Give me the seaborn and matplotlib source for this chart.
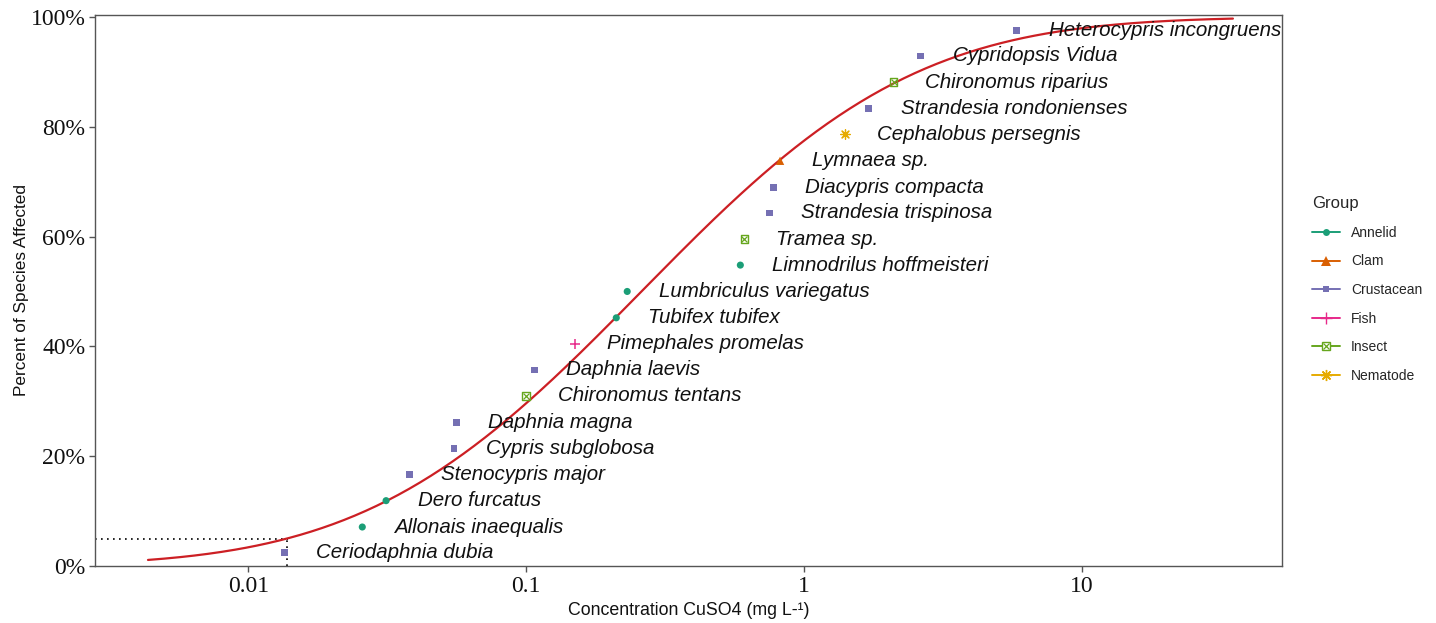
import math
import numpy as np
import pandas as pd
import matplotlib
matplotlib.use("Agg")
import matplotlib.pyplot as plt
from matplotlib.lines import Line2D
from matplotlib.legend_handler import HandlerTuple
from matplotlib.ticker import FuncFormatter, FixedLocator, NullLocator
import seaborn as sns

# Species sensitivity data (CuSO4 toxicity)
species = [
    "Ceriodaphnia dubia", "Allonais inaequalis", "Dero furcatus", "Stenocypris major",
    "Cypris subglobosa", "Daphnia magna", "Chironomus tentans", "Daphnia laevis",
    "Pimephales promelas", "Tubifex tubifex", "Lumbriculus variegatus",
    "Limnodrilus hoffmeisteri", "Tramea sp.", "Strandesia trispinosa",
    "Diacypris compacta", "Lymnaea sp.", "Cephalobus persegnis",
    "Strandesia rondonienses", "Chironomus riparius", "Cypridopsis Vidua",
    "Heterocypris incongruens",
]
groups = [
    "Crustacean", "Annelid", "Annelid", "Crustacean", "Crustacean", "Crustacean",
    "Insect", "Crustacean", "Fish", "Annelid", "Annelid", "Annelid", "Insect",
    "Crustacean", "Crustacean", "Clam", "Nematode", "Crustacean", "Insect",
    "Crustacean", "Crustacean",
]
concentration = [
    0.01345, 0.0257, 0.0313, 0.0379, 0.0550, 0.0560, 0.100, 0.107, 0.150, 0.211,
    0.231, 0.590, 0.610, 0.750, 0.775, 0.820, 1.41, 1.71, 2.10, 2.63, 5.83,
]
percent_affected = [
    2.4, 7.1, 11.9, 16.7, 21.4, 26.2, 31.0, 35.7, 40.5, 45.2, 50.0,
    54.8, 59.5, 64.3, 69.0, 73.8, 78.6, 83.3, 88.1, 92.9, 97.6,
]

# Fitted log-normal SSD (log10 scale)
ssd_meanlog = -0.585
ssd_sdlog = 0.776
curve_range = (0.00435, 35.0)

group_order = ["Annelid", "Clam", "Crustacean", "Fish", "Insect", "Nematode"]
group_colors = {
    "Annelid": "#1B9E77", "Clam": "#D95F02", "Crustacean": "#7570B3",
    "Fish": "#E7298A", "Insect": "#66A61E", "Nematode": "#E6AB02",
}

df = pd.DataFrame({
    "species": species, "group": groups,
    "conc": concentration, "frac": np.array(percent_affected) / 100.0,
})

xs = np.logspace(np.log10(curve_range[0]), np.log10(curve_range[1]), 400)
z = (np.log10(xs) - ssd_meanlog) / ssd_sdlog
cdf = 0.5 * (1 + np.vectorize(math.erf)(z / math.sqrt(2)))
curve = pd.DataFrame({"conc": xs, "frac": cdf})
hc5 = 10 ** (ssd_meanlog - 1.6449 * ssd_sdlog)

sns.set_theme(style="white")
plt.rcParams["font.family"] = ["Liberation Sans", "DejaVu Sans"]

fig = plt.figure(figsize=(14.36, 6.23), dpi=100)
ax = fig.add_axes([0.0662, 0.0915, 0.8266, 0.8845])

xmin, xmax = 0.002805, 52.6
ax.set_xscale("log")
ax.set_xlim(xmin, xmax)
ax.set_ylim(0, 1.0036)

# HC5 guide lines
ax.plot([xmin, hc5 * 1.01], [0.05, 0.05], linestyle=(0, (1, 2.6)), color="black", lw=1.2)
ax.plot([hc5, hc5], [0, 0.05], linestyle=(0, (1, 2.6)), color="black", lw=1.2)

sns.lineplot(data=curve, x="conc", y="frac", color="#CC1F24", lw=1.6, ax=ax)


def draw_group(g, sub):
    col = group_colors[g]
    kw = dict(data=sub, x="conc", y="frac", ax=ax, legend=False, zorder=3)
    if g == "Annelid":
        sns.scatterplot(marker="o", s=26, color=col, edgecolor="none", **kw)
    elif g == "Clam":
        sns.scatterplot(marker="^", s=36, color=col, edgecolor="none", **kw)
    elif g == "Crustacean":
        sns.scatterplot(marker="s", s=24, color=col, edgecolor="none", **kw)
    elif g == "Fish":
        sns.scatterplot(marker="+", s=60, color=col, linewidth=1.1, **kw)
    elif g == "Insect":
        sns.scatterplot(marker="s", s=30, facecolor="none", edgecolor=col,
                        linewidth=1.0, **kw)
        sns.scatterplot(marker="x", s=18, color=col, linewidth=0.9, **kw)
    elif g == "Nematode":
        sns.scatterplot(marker=(8, 2, 0), s=48, color=col, linewidth=0.9, **kw)


for g in group_order:
    draw_group(g, df[df["group"] == g])

for sp, c, f in zip(species, concentration, df["frac"]):
    ax.annotate(sp, (c, f), xytext=(23, 0), textcoords="offset points",
                va="center", ha="left", fontsize=14.8, style="italic",
                color="#111111")

ax.xaxis.set_major_locator(FixedLocator([0.01, 0.1, 1, 10]))
ax.xaxis.set_minor_locator(NullLocator())
ax.xaxis.set_major_formatter(FuncFormatter(lambda v, p: f"{v:g}"))
ax.yaxis.set_major_locator(FixedLocator([0, 0.2, 0.4, 0.6, 0.8, 1.0]))
ax.yaxis.set_major_formatter(FuncFormatter(lambda v, p: f"{v*100:.0f}%"))

for lab in ax.get_xticklabels() + ax.get_yticklabels():
    lab.set_fontfamily("Liberation Serif")
    lab.set_fontsize(17)
    lab.set_color("#111111")

ax.tick_params(axis="both", which="major", length=4, width=1, color="#555555",
               direction="out", bottom=True, left=True, pad=3)
for sp_ in ax.spines.values():
    sp_.set_color("#555555")
    sp_.set_linewidth(1.0)

ax.set_xlabel("Concentration CuSO4 (mg L-¹)", fontsize=12.8, color="#111111", labelpad=4)
ax.set_ylabel("Percent of Species Affected", fontsize=12.4, color="#111111", labelpad=1)

handles = []
for g in group_order:
    col = group_colors[g]
    if g == "Insect":
        h = (Line2D([0], [0], color=col, lw=1.4, marker="s", markersize=5.5,
                    markerfacecolor="white", markeredgecolor=col, markeredgewidth=1.0),
             Line2D([0], [0], color=col, lw=0, marker="x", markersize=4.2,
                    markeredgewidth=0.9))
    else:
        mk = {"Annelid": "o", "Clam": "^", "Crustacean": "s", "Fish": "+",
              "Nematode": (8, 2, 0)}[g]
        ms = {"Annelid": 5, "Clam": 6.5, "Crustacean": 5, "Fish": 8, "Nematode": 8}[g]
        h = Line2D([0], [0], color=col, lw=1.4, marker=mk, markersize=ms,
                   markeredgewidth=1.0 if g in ("Fish", "Nematode") else 0)
    handles.append(h)

leg = fig.legend(handles=handles, labels=group_order, title="Group", loc="upper left",
                 bbox_to_anchor=(0.905, 0.705), frameon=False, fontsize=10,
                 title_fontsize=12, handlelength=2.0, labelspacing=1.05,
                 alignment="left", handler_map={tuple: HandlerTuple(ndivide=1, pad=0)})

fig.savefig("out.png", dpi=100)
